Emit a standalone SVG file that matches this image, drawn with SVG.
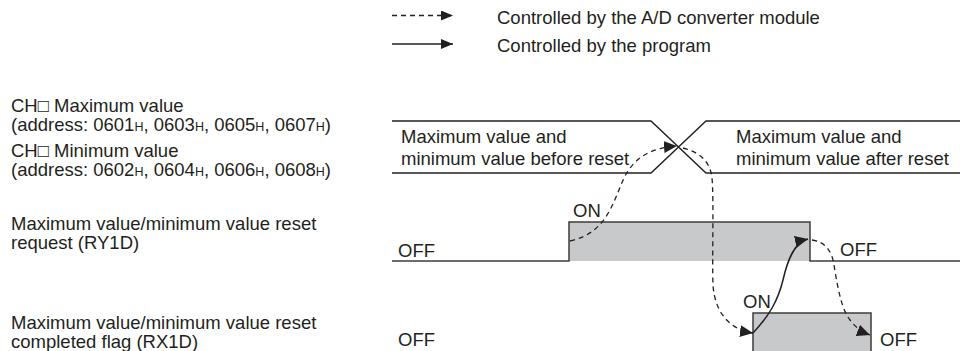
<svg xmlns="http://www.w3.org/2000/svg" width="960" height="351" viewBox="0 0 960 351">
<style>
text{font-family:"Liberation Sans",Arial,sans-serif;font-size:18.5px;fill:#231f20}
.s{font-size:12.5px}
.bus{fill:none;stroke:#231f20;stroke-width:1.4}
.sig{fill:#c8c9cb}
.lvl{fill:none;stroke:#3d3d3d;stroke-width:1.5}
.dash{fill:none;stroke:#231f20;stroke-width:1.3;stroke-dasharray:5,4}
.solid{fill:none;stroke:#231f20;stroke-width:1.5}
</style>
<defs>
<marker id="ah" markerUnits="userSpaceOnUse" markerWidth="14" markerHeight="12" refX="13" refY="6" orient="auto">
<path d="M0,0 L13,6 L0,12 z" fill="#231f20"/>
</marker>
<marker id="al" markerUnits="userSpaceOnUse" markerWidth="12" markerHeight="10" refX="12" refY="5" orient="auto">
<path d="M0,0 L12,5 L0,10 z" fill="#231f20"/>
</marker>
</defs>
<g id="legend">
<path class="dash" d="M392,15.5 H453" marker-end="url(#al)"/>
<text x="497" y="23.5">Controlled by the A/D converter module</text>
<path class="solid" d="M392,44 H453" marker-end="url(#al)"/>
<text x="497" y="52">Controlled by the program</text>
</g>
<g id="labels">
<text x="11" y="111.5">CH□ Maximum value</text>
<text x="11" y="130.5">(address: 0601<tspan class="s">H</tspan>, 0603<tspan class="s">H</tspan>, 0605<tspan class="s">H</tspan>, 0607<tspan class="s">H</tspan>)</text>
<text x="11" y="157">CH□ Minimum value</text>
<text x="11" y="176">(address: 0602<tspan class="s">H</tspan>, 0604<tspan class="s">H</tspan>, 0606<tspan class="s">H</tspan>, 0608<tspan class="s">H</tspan>)</text>
<text x="11" y="229.5">Maximum value/minimum value reset</text>
<text x="11" y="248.5">request (RY1D)</text>
<text x="11" y="329">Maximum value/minimum value reset</text>
<text x="11" y="348">completed flag (RX1D)</text>
</g>
<g id="bus">
<path class="bus" d="M392,121 H651 L706,173 H960 M392,173 H651 L706,121 H960"/>
<text x="401" y="143">Maximum value and</text>
<text x="401" y="164.5">minimum value before reset</text>
<text x="736" y="143">Maximum value and</text>
<text x="736" y="164.5">minimum value after reset</text>
</g>
<g id="ry1d">
<rect class="sig" x="569" y="222" width="241" height="39"/>
<path class="lvl" d="M392,261 H569 V222 H810 V261 H960"/>
<text x="398" y="257">OFF</text>
<text x="573" y="217">ON</text>
<text x="840" y="256">OFF</text>
</g>
<g id="rx1d">
<rect class="sig" x="753" y="313" width="118" height="40"/>
<path class="lvl" d="M392,352 H753 V313 H871 V352 H960"/>
<text x="398" y="346">OFF</text>
<text x="743" y="308">ON</text>
<text x="880" y="346">OFF</text>
</g>
<g id="connectors">
<path class="dash" d="M570,241 C606,233 612,205 624,178 C635,156 652,148 677,146" marker-end="url(#ah)"/>
<path class="dash" d="M683,148 C698,152 710,160 712,178 C714,200 712,260 713,285 C715,315 732,330 753,333" marker-end="url(#ah)"/>
<path class="solid" d="M753,333 C770,315 778,300 783,280 C788,258 795,242 808,239" marker-end="url(#ah)"/>
<path class="dash" d="M812,240 C826,242 832,252 834,265 C838,290 842,310 850,320 C856,328 862,332 870,335" marker-end="url(#ah)"/>
</g>
</svg>
